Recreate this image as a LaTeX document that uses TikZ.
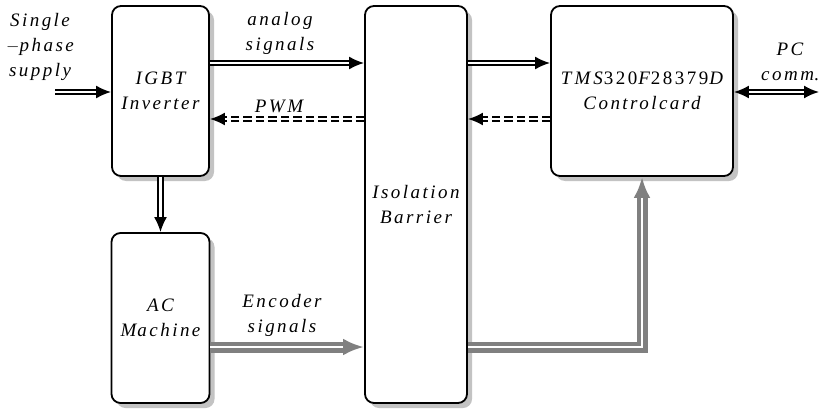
\documentclass[tikz,border=0pt]{standalone}
\usepackage{fontspec}
\setmainfont{Liberation Serif}
\newfontfamily\labfont[LetterSpace=13]{Liberation Serif}
\usetikzlibrary{arrows.meta,shadows}
\definecolor{shadowgray}{RGB}{195,195,195}
\definecolor{arrowgray}{RGB}{128,128,128}
\newcommand{\up}[1]{{\upshape #1}}
\begin{document}
\begin{tikzpicture}[x=1pt,y=-1pt,
  lab/.style={font=\fontsize{19}{25}\labfont\itshape, align=center, inner sep=0pt},
  blk/.style={lab, draw=black, line width=1.8pt, rounded corners=9pt, fill=white,
    drop shadow={shadow xshift=5pt, shadow yshift=-5pt, fill=shadowgray, opacity=1}},
  dbl/.style={draw=black, double=white, double distance=2.4pt, line width=1.9pt,
    -{Latex[length=15pt,width=13pt]}},
  dblboth/.style={dbl, {Latex[length=15pt,width=13pt]}-{Latex[length=15pt,width=13pt]}},
  dbldash/.style={dbl, dash pattern=on 8.5pt off 4pt},
  gdbl/.style={draw=arrowgray, double=white, double distance=2.2pt, line width=4.4pt,
    -{Latex[length=21pt,width=17pt]}}
]
\path[use as bounding box, fill=white] (0,0) rectangle (826,409);

\node[blk, minimum width=97pt, minimum height=170pt] (igbt) at (160.5,91) {IGBT\\I\kern2pt nverter};
\node[blk, minimum width=98pt, minimum height=170pt] (ac) at (160.5,318) {AC\\M\kern1pt achine};
\node[blk, minimum width=102pt, minimum height=397pt] (iso) at (416,204.5) {Isolation\\Barrier};
\node[blk, minimum width=182pt, minimum height=170pt] (ctrl) at (642,91)
  {T\kern3pt M\kern3pt S\kern1pt\up{320}\kern1pt F\kern1pt\up{28379}\kern1pt D\\Controlcard};

\node[lab] (supl) at (40,47) {Single\\\up{$-$}phase\\supply};
\node[lab] (anl) at (280,33) {analog\\signals};
\node[lab] (pwml) at (279,106) {PWM};
\node[lab] (pcl) at (790,62) {PC\\comm\up{.}};
\node[lab] (encl) at (282,315) {Encoder\\signals};

\coordinate (sin) at (55,92);
\coordinate (pcout) at (819,92);

\draw[dbl] (sin) -- (sin -| igbt.west);
\draw[dbl] (igbt.east |- 0,63) -- (iso.west |- 0,63);
\draw[dbl] (iso.east |- 0,63) -- (ctrl.west |- 0,63);
\draw[dbldash] (iso.west |- 0,119) -- (igbt.east |- 0,119);
\draw[dbldash] (ctrl.west |- 0,119) -- (iso.east |- 0,119);
\draw[dbl] (igbt.south) -- (ac.north);
\draw[dblboth] (ctrl.east |- pcout) -- (pcout);
\draw[gdbl] (ac.east |- 0,347) -- (iso.west |- 0,347);
\draw[gdbl] (iso.east |- 0,347) -| (ctrl.south);
\end{tikzpicture}
\end{document}
